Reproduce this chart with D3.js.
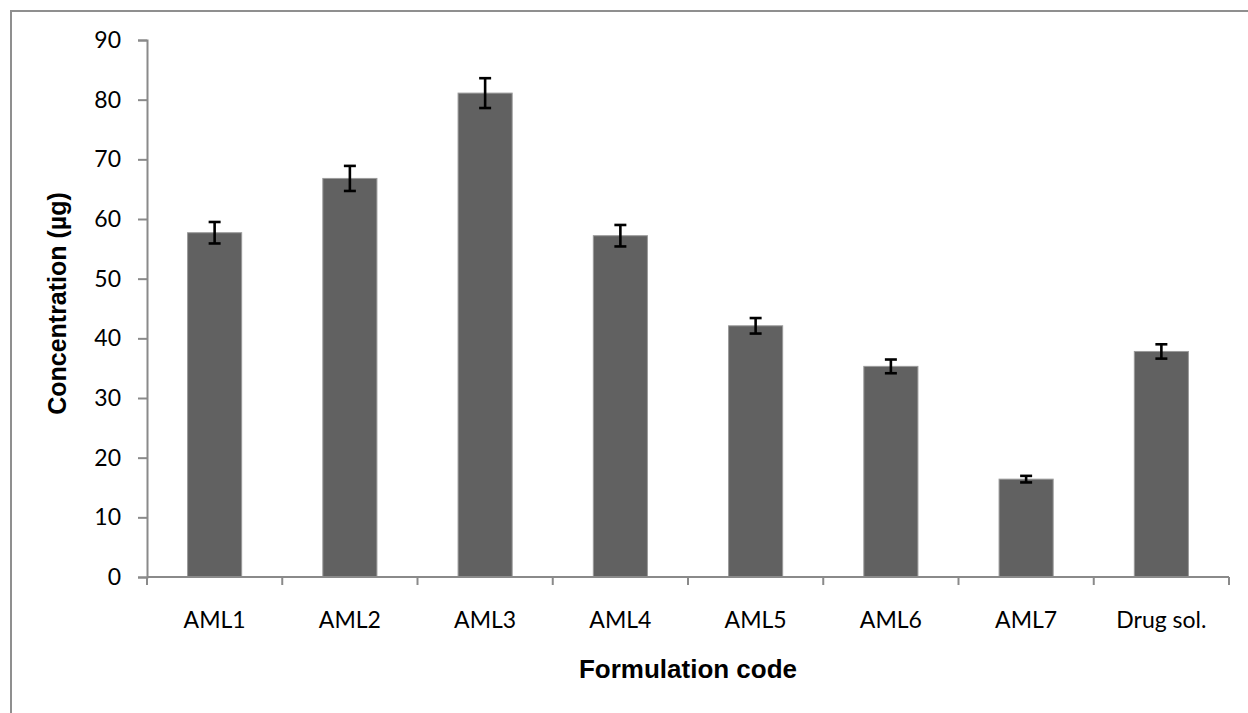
<!DOCTYPE html>
<html>
<head>
<meta charset="utf-8">
<script src="https://cdn.jsdelivr.net/npm/d3@7/dist/d3.min.js"></script>
<style>
  html, body { margin: 0; padding: 0; background: #fff; }
  svg { display: block; }
</style>
</head>
<body>
<svg id="chart" width="1248" height="713"></svg>
<script>
// Drug concentration per formulation, mean ± SD
const categories = ["AML1", "AML2", "AML3", "AML4", "AML5", "AML6", "AML7", "Drug sol."];
const values = [57.7, 66.8, 81.1, 57.2, 42.1, 35.3, 16.4, 37.8];
const errors = [1.8, 2.1, 2.5, 1.8, 1.3, 1.15, 0.55, 1.2];
const yTicks = [0, 10, 20, 30, 40, 50, 60, 70, 80, 90];

const svg = d3.select("#chart");
const W = 1248, H = 713;
const plot = { left: 147, right: 1229, top: 40, bottom: 577 };
const axisColor = "#8a8a8a";

// outer chart frame
svg.append("rect")
  .attr("x", 11).attr("y", 11)
  .attr("width", W + 20).attr("height", H + 20)
  .attr("fill", "#fff")
  .attr("stroke", "#8f8f8f")
  .attr("stroke-width", 2);

const x = d3.scaleBand().domain(categories).range([plot.left, plot.right]).padding(0);
const y = d3.scaleLinear().domain([0, 90]).range([plot.bottom, plot.top]);

// y axis
const yAxis = svg.append("g")
  .attr("transform", `translate(${plot.left},0)`)
  .call(d3.axisLeft(y).tickValues(yTicks).tickSize(9).tickPadding(17).tickFormat(d3.format("d")));
yAxis.select(".domain").attr("stroke", axisColor).attr("stroke-width", 2);
yAxis.selectAll(".tick line").attr("stroke", axisColor).attr("stroke-width", 2);
yAxis.selectAll(".tick text")
  .attr("fill", "#000")
  .style("font-family", "Lato, 'Open Sans', sans-serif")
  .style("font-size", "23px");

// bars
const bw = x.bandwidth() * 0.4;
svg.append("g").selectAll("rect")
  .data(categories)
  .join("rect")
  .attr("x", (d) => x(d) + (x.bandwidth() - bw) / 2)
  .attr("y", (d, i) => y(values[i]))
  .attr("width", bw)
  .attr("height", (d, i) => y(0) - y(values[i]))
  .attr("fill", "#616161")
  .attr("stroke", "#9a9a9a")
  .attr("stroke-width", 1);

// x axis (ticks at category boundaries)
const xg = svg.append("g");
xg.append("line")
  .attr("x1", plot.left).attr("x2", plot.right)
  .attr("y1", y(0)).attr("y2", y(0))
  .attr("stroke", axisColor).attr("stroke-width", 2);
const bounds = categories.map((c) => x(c)).concat([x.range()[1]]);
xg.selectAll("line.tick")
  .data(bounds)
  .join("line")
  .attr("class", "tick")
  .attr("x1", (d) => d).attr("x2", (d) => d)
  .attr("y1", y(0)).attr("y2", y(0) + 8)
  .attr("stroke", axisColor).attr("stroke-width", 2);
xg.selectAll("text")
  .data(categories)
  .join("text")
  .attr("x", (d) => x(d) + x.bandwidth() / 2)
  .attr("y", 628)
  .attr("text-anchor", "middle")
  .attr("fill", "#000")
  .style("font-family", "Lato, 'Open Sans', sans-serif")
  .style("font-size", "23px")
  .text((d) => d);

// error bars
const eg = svg.append("g").attr("stroke", "#000").attr("stroke-width", 2.6);
categories.forEach((c, i) => {
  const cx = x(c) + x.bandwidth() / 2;
  const hi = y(values[i] + errors[i]);
  const lo = y(values[i] - errors[i]);
  eg.append("line").attr("x1", cx).attr("x2", cx).attr("y1", hi).attr("y2", lo);
  eg.append("line").attr("x1", cx - 6).attr("x2", cx + 6).attr("y1", hi).attr("y2", hi);
  eg.append("line").attr("x1", cx - 6).attr("x2", cx + 6).attr("y1", lo).attr("y2", lo);
});

// axis titles
svg.append("text")
  .attr("x", (plot.left + plot.right) / 2)
  .attr("y", 678)
  .attr("text-anchor", "middle")
  .style("font-family", "'Liberation Sans', Arial, sans-serif")
  .style("font-weight", "bold")
  .style("font-size", "26px")
  .text("Formulation code");

svg.append("text")
  .attr("transform", `translate(66,${(plot.top + plot.bottom) / 2 - 5}) rotate(-90)`)
  .attr("text-anchor", "middle")
  .style("font-family", "'Liberation Sans', Arial, sans-serif")
  .style("font-weight", "bold")
  .style("font-size", "25px")
  .text("Concentration (µg)");
</script>
</body>
</html>
